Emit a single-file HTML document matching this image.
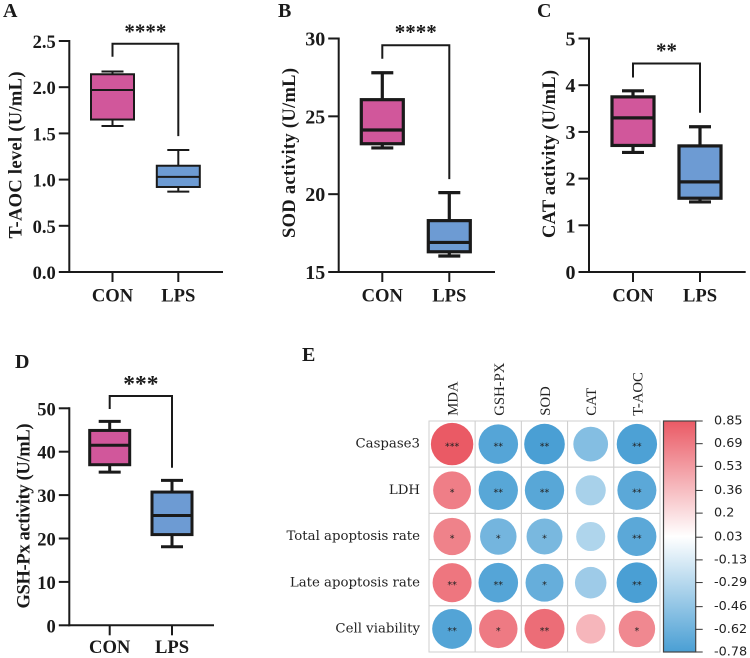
<!DOCTYPE html>
<html lang="en">
<head>
<meta charset="utf-8">
<title>Antioxidant box plots and correlation matrix</title>
<style>
html,body{margin:0;padding:0;background:#fff;width:750px;height:658px;overflow:hidden}
svg{display:block}
.serif{font-family:"Liberation Serif",serif}
.bold{font-weight:bold;fill:#1a1a1a}
</style>
</head>
<body>
<svg id="fig" xmlns="http://www.w3.org/2000/svg" width="750" height="658" viewBox="0 0 750 658">
  <defs>
    <linearGradient id="cbar" x1="0" y1="0" x2="0" y2="1">
      <stop offset="0" stop-color="#ea5a65"/>
      <stop offset="0.5" stop-color="#ffffff"/>
      <stop offset="1" stop-color="#4a9fd4"/>
    </linearGradient>
  </defs>
  <text class="serif bold" x="3" y="17" font-size="20">A</text>
  <text class="serif bold" x="278" y="17" font-size="20">B</text>
  <text class="serif bold" x="537" y="17" font-size="20">C</text>
  <text class="serif bold" x="15" y="368" font-size="20">D</text>
  <text class="serif bold" x="302" y="361" font-size="20">E</text>
  <g id="panelA"></g>
  <g id="panelB"></g>
  <g id="panelC"></g>
  <g id="panelD"></g>
  <g id="panelE"></g>
</svg>
<script>
// Box-plot data: each box is [min, q1, median, q3, max]
const groups = ['CON', 'LPS'];

const aTicks = ['0.0', '0.5', '1.0', '1.5', '2.0', '2.5'];
const aCon = [1.58, 1.65, 1.97, 2.14, 2.17];
const aLps = [0.87, 0.92, 1.03, 1.15, 1.32];
const aBracket = [2.47, 2.33, 1.47];

const bTicks = ['15', '20', '25', '30'];
const bCon = [22.97, 23.24, 24.12, 26.07, 27.8];
const bLps = [16.03, 16.3, 16.9, 18.3, 20.1];
const bBracket = [29.57, 28.7, 20.97];

const cTicks = ['0', '1', '2', '3', '4', '5'];
const cCon = [2.56, 2.71, 3.3, 3.75, 3.88];
const cLps = [1.5, 1.58, 1.93, 2.7, 3.11];
const cBracket = [4.465, 4.165, 3.41];

const dTicks = ['0', '10', '20', '30', '40', '50'];
const dCon = [35.3, 37, 41.5, 44.9, 47];
const dLps = [18.1, 20.9, 25.3, 30.7, 33.4];
const dBracket = [52.84, 49.85, 36.3];

// Correlation matrix data
const rowLabels = ['Caspase3', 'LDH', 'Total apoptosis rate', 'Late apoptosis rate', 'Cell viability'];
const colLabels = ['MDA', 'GSH-PX', 'SOD', 'CAT', 'T-AOC'];
const corrRow1 = [0.85, -0.74, -0.78, -0.57, -0.77];
const corrRow2 = [0.68, -0.73, -0.73, -0.43, -0.72];
const corrRow3 = [0.66, -0.63, -0.61, -0.40, -0.72];
const corrRow4 = [0.72, -0.74, -0.68, -0.47, -0.78];
const corrRow5 = [-0.75, 0.70, 0.76, 0.41, 0.63];
const sigRow1 = ['***', '**', '**', '', '**'];
const sigRow2 = ['*', '**', '**', '', '**'];
const sigRow3 = ['*', '*', '*', '', '**'];
const sigRow4 = ['**', '**', '*', '', '**'];
const sigRow5 = ['**', '*', '**', '', '*'];
const colorbarTicks = ['0.85', '0.69', '0.53', '0.36', '0.2', '0.03', '-0.13', '-0.29', '-0.46', '-0.62', '-0.78'];

const NS = 'http://www.w3.org/2000/svg';
function el(tag, attrs, parent) {
  const n = document.createElementNS(NS, tag);
  for (const k in attrs) n.setAttribute(k, attrs[k]);
  parent.appendChild(n);
  return n;
}

function drawBoxPanel(o) {
  const g = document.getElementById(o.id);
  const nums = o.ticks.map(Number);
  const vMin = nums[0], vMax = nums[nums.length - 1];
  const y = v => o.y0 - (v - vMin) / (vMax - vMin) * (o.y0 - o.yTop);
  const x = i => o.x1 + i * o.step;
  const ink = '#1a1a1a';

  // axes
  const yAxis = el('line', {x1: o.axisX, x2: o.axisX, y1: o.yTop - 1, y2: o.y0 + 1, stroke: ink, 'stroke-width': 2}, g);
  
  
  const xAxis = el('line', {x1: o.axisX - 1, x2: o.axisEnd, y1: o.y0, y2: o.y0, stroke: ink, 'stroke-width': 2}, g);
  
  

  // y ticks
  o.ticks.forEach(t => {
    const yy = y(Number(t));
    const tick = el('line', {x1: o.axisX - 10.5, x2: o.axisX, y1: yy, y2: yy, stroke: ink, 'stroke-width': 2}, g);
    
    
    const lab = el('text', {x: o.axisX - 13.5, y: yy + 7, 'text-anchor': 'end', 'font-size': o.tickFont, class: 'serif bold'}, g);
    
    
    lab.textContent = t;
  });

  // y title
  const title = el('text', {
    transform: 'translate(' + o.titleX + ',' + o.titleY + ') rotate(-90)',
    'text-anchor': 'middle', 'font-size': 18.5, class: 'serif bold',
    textLength: o.titleLen
  }, g);
  
  
  title.textContent = o.title;

  // boxes
  o.series.forEach((s, i) => {
    const cx = x(i);
    const xt = el('line', {x1: cx, x2: cx, y1: o.y0, y2: o.y0 + 10, stroke: ink, 'stroke-width': 2}, g);
    
    
    const xl = el('text', {x: cx, y: o.y0 + o.xLabelOffset, 'text-anchor': 'middle', 'font-size': 18.6, class: 'serif bold'}, g);
    
    
    xl.textContent = groups[i];

    const whisker = el('line', {x1: cx, x2: cx, y1: y(s[0]), y2: y(s[4]), stroke: ink, 'stroke-width': o.lw}, g);
    
    
    [s[0], s[4]].forEach(v => {
      const cap = el('line', {x1: cx - 11, x2: cx + 11, y1: y(v), y2: y(v), stroke: ink, 'stroke-width': o.lw}, g);
      
      
    });
    const box = el('rect', {
      x: cx - o.boxHalf, width: o.boxHalf * 2, y: y(s[3]), height: y(s[1]) - y(s[3]),
      fill: i === 0 ? '#d1579b' : '#6d9bd3', stroke: ink, 'stroke-width': o.lw
    }, g);
    
    
    const med = el('line', {x1: cx - o.boxHalf, x2: cx + o.boxHalf, y1: y(s[2]), y2: y(s[2]), stroke: ink, 'stroke-width': o.lw}, g);
    
    
  });

  // significance bracket: [top, left end, right end]
  const br = el('path', {
    d: 'M' + x(0) + ' ' + y(o.bracket[1]) + 'V' + y(o.bracket[0]) + 'H' + x(1) + 'V' + y(o.bracket[2]),
    fill: 'none', stroke: ink, 'stroke-width': 2
  }, g);
  
  
  const st = el('text', {
    x: (x(0) + x(1)) / 2, y: y(o.bracket[0]) + o.starOffset, 'text-anchor': 'middle',
    'font-size': o.starFont, class: 'serif bold'
  }, g);
  
  
  st.textContent = o.stars;
}

drawBoxPanel({id: 'panelA', ticks: aTicks, series: [aCon, aLps], bracket: aBracket, stars: '****',
  title: 'T-AOC level (U/mL)', titleX: 21.7, titleY: 155, titleLen: 167,
  axisX: 69.3, axisEnd: 223, y0: 272, yTop: 41, x1: 112.5, step: 65.8, boxHalf: 21.5, lw: 2,
  tickFont: 18.5, xLabelOffset: 29.5, starOffset: -5.5, starFont: 21});
drawBoxPanel({id: 'panelB', ticks: bTicks, series: [bCon, bLps], bracket: bBracket, stars: '****',
  title: 'SOD activity (U/mL)', titleX: 295, titleY: 153, titleLen: 170,
  axisX: 338.7, axisEnd: 495, y0: 272, yTop: 38.5, x1: 382.3, step: 67, boxHalf: 21, lw: 3.2,
  tickFont: 20, xLabelOffset: 29.5, starOffset: -6, starFont: 21});
drawBoxPanel({id: 'panelC', ticks: cTicks, series: [cCon, cLps], bracket: cBracket, stars: '**',
  title: 'CAT activity (U/mL)', titleX: 555, titleY: 154, titleLen: 168,
  axisX: 589, axisEnd: 745.7, y0: 272, yTop: 38.5, x1: 633, step: 67, boxHalf: 21, lw: 3.2,
  tickFont: 20, xLabelOffset: 29.5, starOffset: -6, starFont: 21});
drawBoxPanel({id: 'panelD', ticks: dTicks, series: [dCon, dLps], bracket: dBracket, stars: '***',
  title: 'GSH-Px activity (U/mL)', titleX: 29.3, titleY: 516, titleLen: 185,
  axisX: 69.3, axisEnd: 214, y0: 625.3, yTop: 408.3, x1: 109.7, step: 62.3, boxHalf: 20, lw: 3,
  tickFont: 18.5, xLabelOffset: 27.7, starOffset: -4.5, starFont: 23.5});

// Correlation panel
(function () {
  const g = document.getElementById('panelE');
  const corr = [corrRow1, corrRow2, corrRow3, corrRow4, corrRow5];
  const sig = [sigRow1, sigRow2, sigRow3, sigRow4, sigRow5];
  const gx = 429, gy = 421, cell = 46.2;
  const cMax = Number(colorbarTicks[0]);
  const cMin = Number(colorbarTicks[colorbarTicks.length - 1]);
  const mid = (cMax + cMin) / 2;
  const red = [234, 90, 101], blue = [74, 159, 212];
  const color = v => {
    const t = v >= mid ? (v - mid) / (cMax - mid) : (mid - v) / (mid - cMin);
    const c = v >= mid ? red : blue;
    const e = Math.pow(Math.min(1, t), v >= mid ? 1.05 : 1.3);
    const mix = c.map(k => Math.round(255 + (k - 255) * e));
    return 'rgb(' + mix.join(',') + ')';
  };

  corr.forEach((row, r) => {
    const cy = gy + (r + 0.5) * cell;
    const lab = el('text', {
      x: gx - 9, y: cy + 3.6, 'text-anchor': 'end', 'font-size': 13.3,
      'font-family': '"DejaVu Serif",serif', fill: '#222'
    }, g);
    
    
    lab.textContent = rowLabels[r];

    row.forEach((v, c) => {
      const cx = gx + (c + 0.5) * cell;
      const rect = el('rect', {
        x: gx + c * cell, y: gy + r * cell, width: cell, height: cell,
        fill: '#fff', stroke: '#cfcfcf', 'stroke-width': 1
      }, g);
      
      
      const circ = el('circle', {cx: cx, cy: cy, r: 23 * Math.sqrt(Math.abs(v)), fill: color(v)}, g);
      
      
      if (sig[r][c]) {
        const s = el('text', {
          x: cx, y: cy + 5.2, 'text-anchor': 'middle', 'font-size': 9.5,
          'font-family': '"DejaVu Sans",sans-serif', fill: '#222'
        }, g);
        
        
        s.textContent = sig[r][c];
      }
    });
  });

  colLabels.forEach((name, c) => {
    const bx = gx + (c + 0.5) * cell + 5.5;
    const t = el('text', {
      transform: 'translate(' + bx + ',' + (gy - 5.3) + ') rotate(-90)',
      'font-size': 14.7, 'font-family': '"Liberation Serif",serif', fill: '#222'
    }, g);
    
    
    t.textContent = name;
  });

  const barX = 663.5, barW = 32.2, barH = cell * 5;
  const bar = el('rect', {x: barX, y: gy, width: barW, height: barH, fill: 'url(#cbar)', stroke: '#444', 'stroke-width': 1.2}, g);
  
  
  colorbarTicks.forEach((t, i) => {
    const yy = gy + (Number(colorbarTicks[0]) - Number(t)) / (cMax - cMin) * barH;
    const tick = el('line', {x1: barX + barW, x2: barX + barW + 7, y1: yy, y2: yy, stroke: '#333', 'stroke-width': 1}, g);
    
    
    const lab = el('text', {
      x: 714, y: yy + 3.5, 'font-size': 12.8,
      'font-family': '"DejaVu Sans",sans-serif', fill: '#222'
    }, g);
    
    
    lab.textContent = t;
  });
})();
</script>
</body>
</html>
